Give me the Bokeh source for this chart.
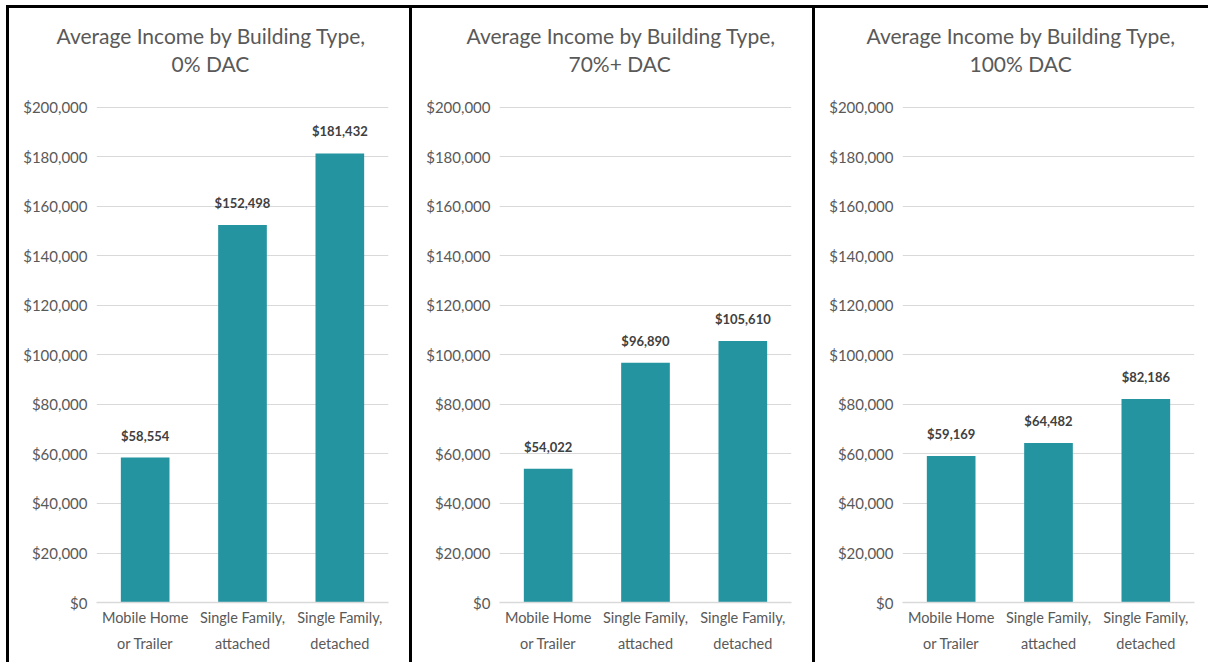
from bokeh.plotting import figure
from bokeh.layouts import row
from bokeh.models import (FixedTicker, NumeralTickFormatter, Range1d, FactorRange,
                          ColumnDataSource, Title)
from bokeh.core.properties import value
from bokeh.embed import file_html
from bokeh.resources import INLINE

# ---- data ----
category_line1 = ["Mobile Home", "Single Family,", "Single Family,"]
category_line2 = ["or Trailer", "attached", "detached"]
title_line1 = "Average Income by Building Type,"
panel_subtitles = ["0% DAC", "70%+ DAC", "100% DAC"]
income_0_dac = [58554, 152498, 181432]
income_70_dac = [54022, 96890, 105610]
income_100_dac = [59169, 64482, 82186]
y_ticks = [0, 20000, 40000, 60000, 80000, 100000, 120000, 140000, 160000, 180000, 200000]

# two-line category labels: (second line as group, first line as factor)
factors = list(zip(category_line2, category_line1))

BAR = "#2494A1"
GREY = "#595959"
GRID = "#D9D9D9"
FONT = "Lato"


def style_title(t, size="21px", align="left"):
    t.align = align
    t.text_font = FONT
    t.text_font_size = size
    t.text_font_style = "normal"
    t.text_color = GREY
    return t


def make_panel(subtitle, values, width, min_right, main_shift, sub_shift, styles):
    src = ColumnDataSource(dict(
        cat=factors,
        val=values,
        lbl=["${:,}".format(v) for v in values],
    ))
    p = figure(
        x_range=FactorRange(*factors, group_padding=0, factor_padding=0,
                            range_padding=0),
        y_range=Range1d(0, 201212),
        width=width, height=657,
        output_backend="svg", toolbar_location=None,
        min_border_left=87, min_border_right=min_right,
        min_border_top=96, min_border_bottom=63,
        title=None,
        styles=styles,
    )
    spacer = style_title(Title(text=" "), "22px", "center")
    spacer.standoff = 0
    sub = style_title(Title(text=subtitle))
    sub.standoff = 0
    sub.offset = sub_shift
    main = style_title(Title(text=title_line1))
    main.standoff = 2
    main.offset = main_shift
    p.add_layout(spacer, "above")
    p.add_layout(sub, "above")
    p.add_layout(main, "above")

    p.vbar(x="cat", top="val", width=0.5, source=src, color=BAR, line_color=None)
    p.text(x="cat", y="val", text="lbl", source=src, text_align="center",
           text_baseline="middle", y_offset=-22, text_font=value(FONT),
           text_font_size="13px", text_font_style="bold", text_color="#404040")

    p.outline_line_color = None
    p.background_fill_color = "white"
    p.border_fill_color = "white"
    p.xgrid.grid_line_color = None
    p.ygrid.grid_line_color = GRID
    p.ygrid.grid_line_width = 1

    p.yaxis.ticker = FixedTicker(ticks=y_ticks)
    p.yaxis.formatter = NumeralTickFormatter(format="$0,0")
    p.yaxis.axis_line_color = None
    p.yaxis.major_tick_line_color = None
    p.yaxis.minor_tick_line_color = None
    p.yaxis.major_tick_out = 0
    p.yaxis.major_label_text_font = FONT
    p.yaxis.major_label_text_font_size = "15px"
    p.yaxis.major_label_text_color = GREY
    p.yaxis.major_label_standoff = 9

    xa = p.xaxis[0]
    xa.axis_line_color = GRID
    xa.axis_line_width = 1.5
    xa.major_tick_line_color = None
    xa.minor_tick_line_color = None
    xa.major_tick_out = 0
    xa.major_tick_in = 0
    xa.separator_line_color = None
    xa.major_label_text_font = FONT
    xa.major_label_text_font_size = "14.5px"
    xa.major_label_text_color = GREY
    xa.major_label_standoff = 6
    xa.major_label_orientation = "horizontal"
    xa.group_text_font = FONT
    xa.group_text_font_size = "14.5px"
    xa.group_text_font_style = "normal"
    xa.group_text_color = GREY
    xa.group_label_orientation = "horizontal"
    return p


border = {"border-top": "3px solid black", "border-left": "3px solid black",
          "box-sizing": "border-box"}

p1 = make_panel(panel_subtitles[0], income_0_dac, 403, 24, -40, 75, border)
p2 = make_panel(panel_subtitles[1], income_70_dac, 403, 24, -33, 69, border)
p3 = make_panel(panel_subtitles[2], income_100_dac, 396, 17, -36, 67, border)

layout = row(p1, p2, p3, margin=(5, 0, 0, 6))
open("out.html", "w").write(file_html(layout, INLINE))
